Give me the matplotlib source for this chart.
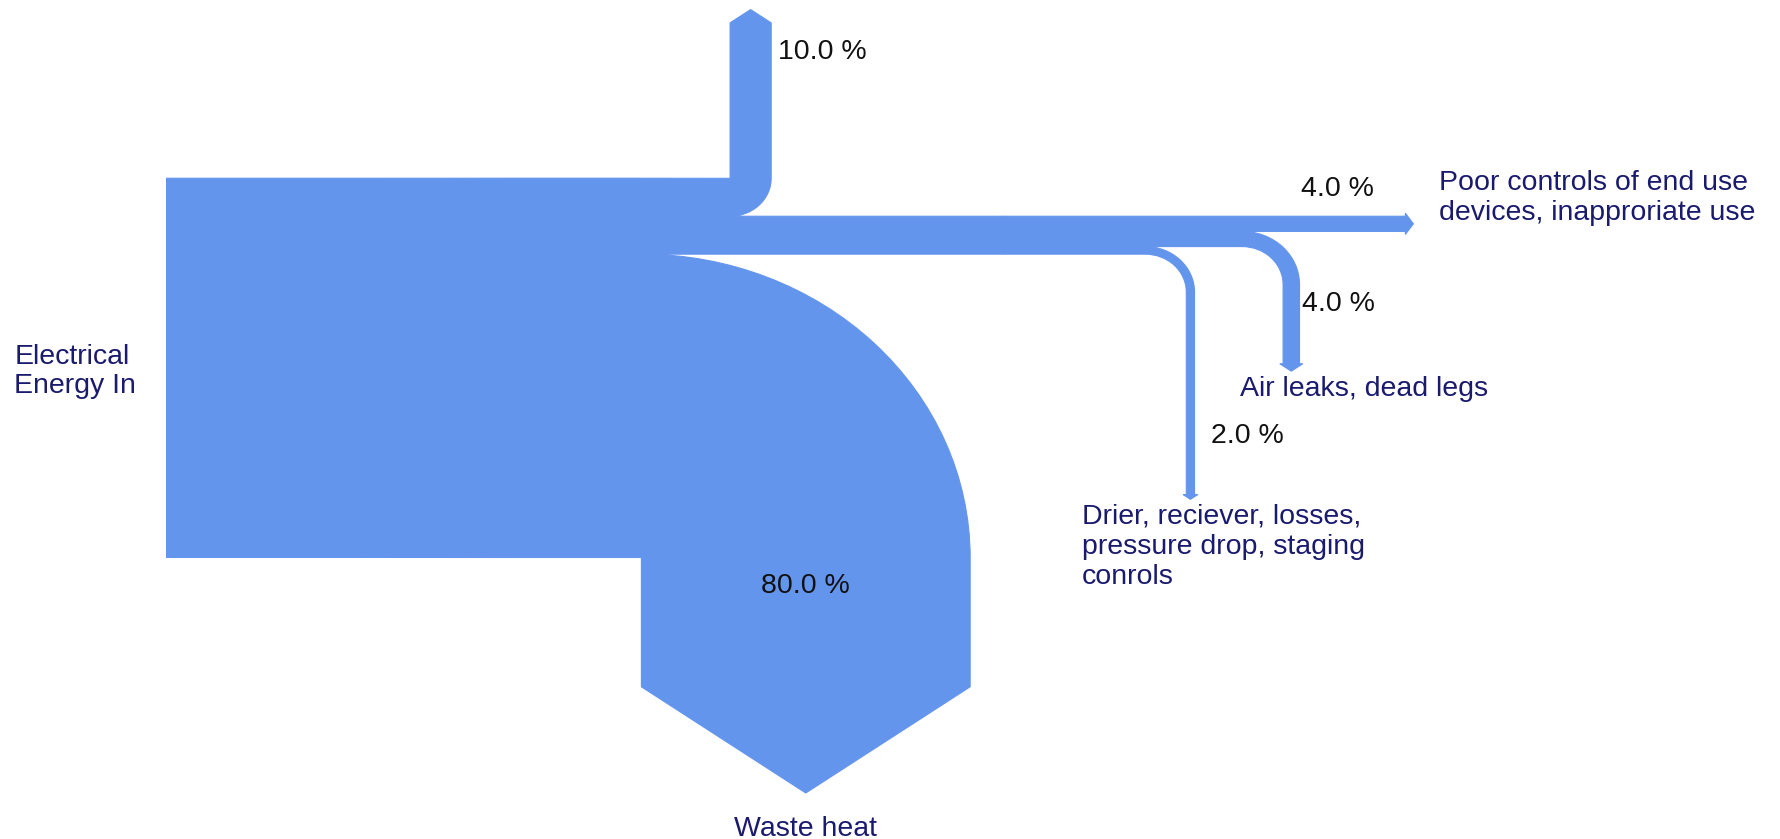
import numpy as np
import matplotlib
matplotlib.use('Agg')
import matplotlib.pyplot as plt
from matplotlib.sankey import Sankey

plt.rcParams['font.family'] = ['Liberation Sans', 'DejaVu Sans']

# energy balance of the compressed air system, percent of electrical input
flow_in = 100.0
flow_other = 10.0
flow_poor = 4.0
flow_leaks = 4.0
flow_drier = 2.0
flow_waste = 80.0

name_in = 'Electrical\nEnergy In'
name_poor = 'Poor controls of end use\ndevices, inapproriate use'
name_leaks = 'Air leaks, dead legs'
name_drier = 'Drier, reciever, losses,\npressure drop, staging\nconrols'
name_waste = 'Waste heat'

blue = '#6495ED'
navy = '#1a1a6e'
ink = '#111111'
fs = 20.5
ls = 1.2

# flow carried on to the second block
rest = flow_in - flow_other - flow_waste
# hairline spacers: each one shifts the upward branch by one gap
spacer = 0.01
n_spacers = 3

fig = plt.figure(figsize=(17.8, 8.39), dpi=100)
x_edge, x_max = -0.6575, 3.2707
y_min, y_max = -1.2425, 0.9701
x_fig0 = -1.0608
left = (x_edge - x_fig0) / (x_max - x_fig0)
ax = fig.add_axes([left, 0, 1 - left, 1])

style = dict(facecolor=blue, edgecolor=blue, linewidth=0.8)
sk = Sankey(ax=ax, scale=0.01, unit=None, gap=0.2155 / n_spacers, radius=0.0,
            shoulder=0, head_angle=110, offset=0)
sk.add(flows=[flow_in] + [-spacer] * n_spacers + [-flow_other, -rest, -flow_waste],
       orientations=[0] + [1] * n_spacers + [1, 0, -1],
       pathlengths=[0.9] + [0.0] * n_spacers + [0.41, 0.08, 0.341],
       trunklength=1.0, **style)
# wider spacing, rounded bends and small arrow shoulders for the minor losses
sk.gap = 0.2155
sk.radius = 0.1
sk.shoulder = 0.008
sk.add(flows=[rest, -flow_poor, -flow_leaks, -flow_drier],
       orientations=[0, 0, -1, -1],
       pathlengths=[0.2155, 0.2575, 0.309, 0.634], trunklength=0.446,
       prior=0, connect=(n_spacers + 2, 0), **style)
diagrams = sk.finish()

ax.set_aspect('auto')
ax.set_xlim(x_edge, x_max)
ax.set_ylim(y_min, y_max)
ax.axis('off')


def pct(v):
    return f'{v:.1f} %'


# input label sits outside the axes, left of the band
ax.text(x_edge - 0.072, -0.01, name_in, ha='right', va='center', ma='left',
        color=navy, fontsize=fs, linespacing=1.15, clip_on=False)

d0, d1 = diagrams
i_up = n_spacers + 1
i_waste = n_spacers + 3

tx, ty = d0.tips[i_waste]
ax.text(tx, ty - 0.095, name_waste, ha='center', va='center', color=navy, fontsize=fs)
ax.text(tx, ty + 0.545, pct(flow_waste), ha='center', va='center', color=ink, fontsize=fs)

tx, ty = d0.tips[i_up]
ax.text(tx + 0.066, ty - 0.111, pct(flow_other), ha='left', va='center', color=ink, fontsize=fs)

tx, ty = d1.tips[1]
ax.text(tx - 0.186, ty + 0.093, pct(flow_poor), ha='center', va='center', color=ink, fontsize=fs)
ax.text(tx + 0.063, ty + 0.068, name_poor, ha='left', va='center', color=navy,
        fontsize=fs, linespacing=ls)

tx, ty = d1.tips[2]
ax.text(tx + 0.027, ty + 0.177, pct(flow_leaks), ha='left', va='center', color=ink, fontsize=fs)
ax.text(tx - 0.125, ty - 0.048, name_leaks, ha='left', va='center', color=navy, fontsize=fs)

tx, ty = d1.tips[3]
ax.text(tx + 0.051, ty + 0.167, pct(flow_drier), ha='left', va='center', color=ink, fontsize=fs)
ax.text(tx - 0.264, ty - 0.125, name_drier, ha='left', va='center', color=navy,
        fontsize=fs, linespacing=ls)

fig.savefig('out.png', dpi=100)
